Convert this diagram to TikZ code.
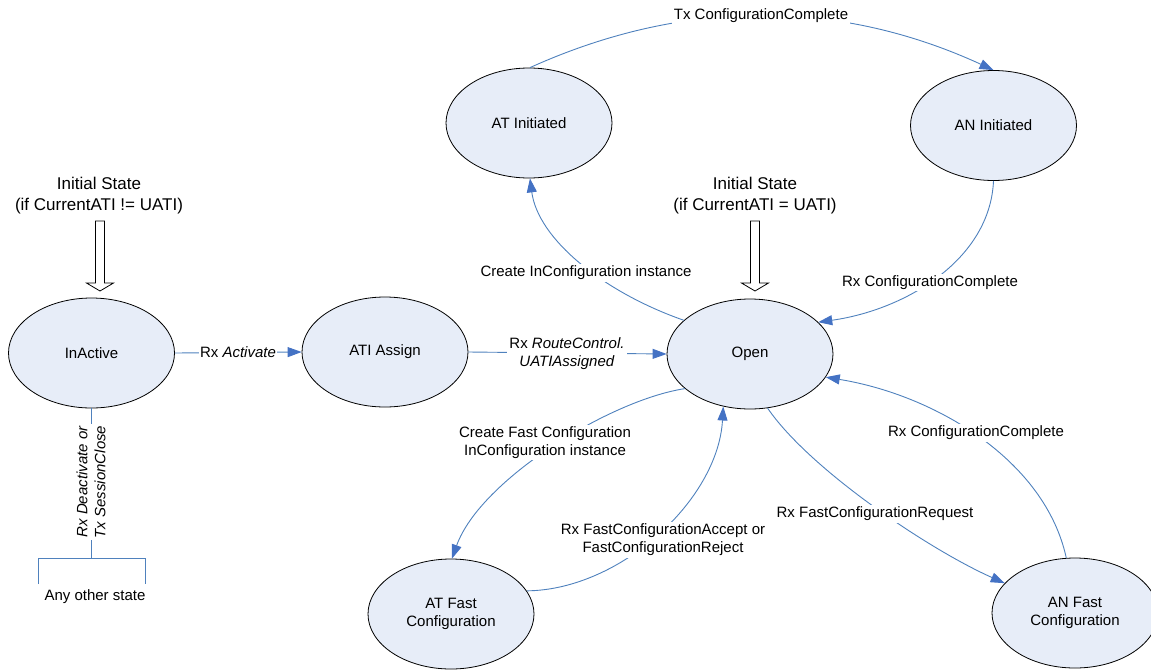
\documentclass[tikz,border=0pt]{standalone}
\usepackage{fontspec}
\setmainfont{Liberation Sans}
\usetikzlibrary{shapes.geometric,arrows.meta}
\definecolor{edgeblue}{RGB}{79,129,189}
\definecolor{tipblue}{RGB}{68,114,196}
\definecolor{statefill}{RGB}{231,237,248}
\begin{document}
\begin{tikzpicture}[x=1pt,y=-1pt,
  state/.style={ellipse, draw=black, line width=0.8pt, fill=statefill, minimum width=166pt, minimum height=110pt, inner sep=0pt, align=center, font=\fontsize{15}{18}\selectfont},
  conn/.style={draw=edgeblue, line width=0.9pt},
  edge/.style={conn, -{Triangle[length=14pt,width=10pt,color=tipblue]}},
  lbl/.style={fill=white, inner sep=2pt, align=center, font=\fontsize{15}{18}\selectfont},
  initlbl/.style={align=center, font=\fontsize{17}{21}\selectfont},
  blockarrow/.pic={\draw[line width=0.8pt, fill=white] (-4.5,0) -- (4.5,0) -- (4.5,62) -- (13.5,62) -- (0,70) -- (-13.5,62) -- (-4.5,62) -- cycle;}
]
\useasboundingbox (0,0) rectangle (1151,670);

% states
\node[state] (inactive) at (91.5,353) {InActive};
\node[state] (ati) at (385,352) {ATI Assign};
\node[state] (open) at (750,354) {Open};
\node[state] (atinit) at (529,123) {AT Initiated};
\node[state] (aninit) at (993.5,125.5) {AN Initiated};
\node[state] (atfast) at (451,614) {AT Fast\\Configuration};
\node[state] (anfast) at (1075,613) {AN Fast\\Configuration};

% initial states
\node[initlbl] (init1) at (99,196) {Initial State\\(if CurrentATI != UATI)};
\node[initlbl] (init2) at (755,196) {Initial State\\(if CurrentATI = UATI)};
\pic at (100,221) {blockarrow};
\pic at (755,221) {blockarrow};

% transitions
\draw[edge] (inactive.east) -- (ati.west);
\node[lbl, inner sep=1pt] (l1) at (238,352.5) {Rx \textit{Activate}};

\draw[edge] (ati.east) -- (open.west);
\node[lbl] (l2) at (567,353.5) {Rx \textit{RouteControl.}\\\textit{UATIAssigned}};

\draw[edge] (open.153) .. controls (603,292) and (538,239) .. (atinit.-89);
\node[lbl] (l3) at (586,273) {Create InConfiguration instance};

\draw[edge] (atinit.89) .. controls (684,-2) and (839,-1) .. (aninit.90);
\node[lbl] (l4) at (761,16) {Tx ConfigurationComplete};

\draw[edge] (aninit.-90) .. controls (990,260) and (905,310) .. (open.25);
\node[lbl] (l5) at (930,282.5) {Rx ConfigurationComplete};

\draw[edge] (open.208) .. controls (610,400) and (480,480) .. (atfast.89);
\node[lbl] (l6) at (545,442.5) {Create Fast Configuration\\InConfiguration instance};

\draw[edge] (atfast.17) .. controls (620,590) and (718,500) .. (open.243);
\node[lbl] (l7) at (663,539.5) {Rx FastConfigurationAccept or\\FastConfigurationReject};

\draw[edge] (open.-72) .. controls (810,470) and (930,550) .. (anfast.157);
\node[lbl] (l8) at (875,514) {Rx FastConfigurationRequest};

\draw[edge] (anfast.99) .. controls (1045,460) and (935,395) .. (open.-17);
\node[lbl] (l9) at (976,433) {Rx ConfigurationComplete};

% any other state
\coordinate (brk) at (91.5,558);
\coordinate (bl) at (38,584);
\coordinate (br) at (145,584);
\draw[conn] (inactive.south) -- (brk);
\draw[conn] (bl) |- (brk) -| (br);
\node[lbl, rotate=90, font={\fontsize{15}{18}\selectfont\itshape}] (l10) at (91,482) {Rx Deactivate or\\Tx SessionClose};
\node[lbl, fill=none] (other) at (95,597) {Any other state};
\end{tikzpicture}
\end{document}
